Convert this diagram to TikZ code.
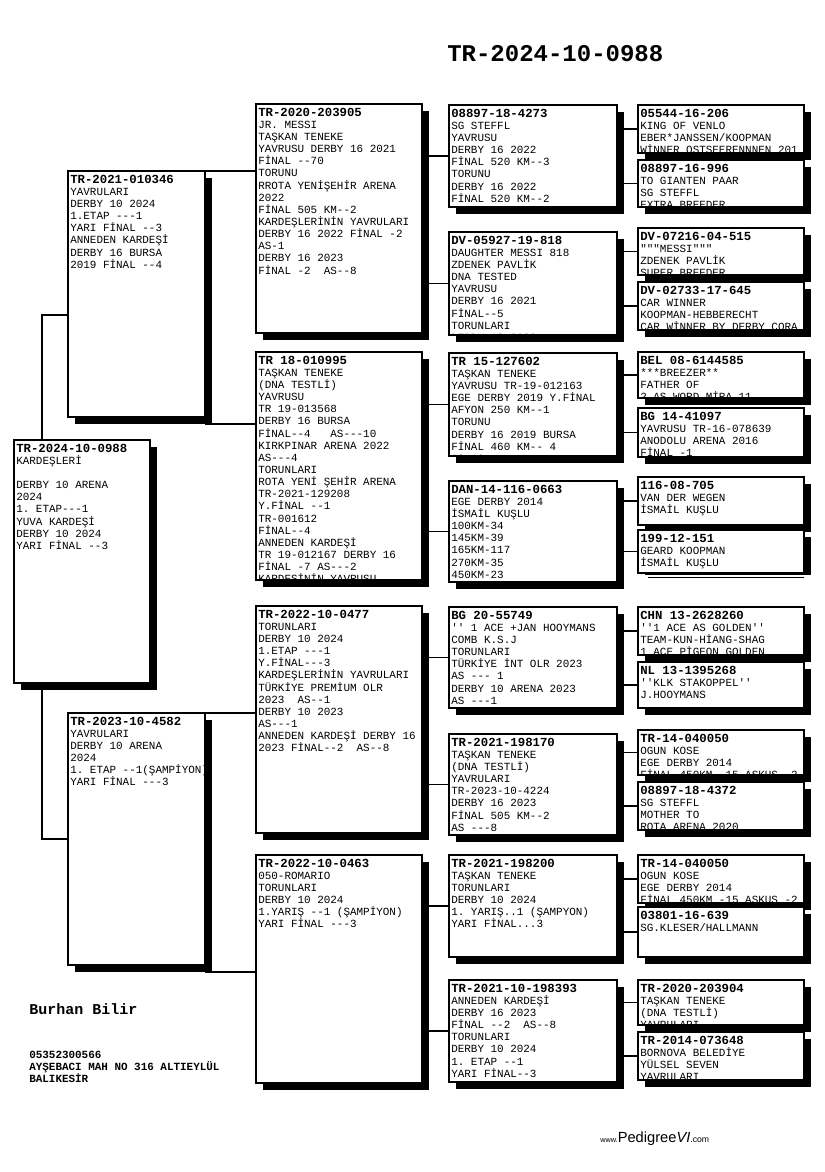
\documentclass[tikz,border=0pt]{standalone}
\usepackage{fontspec}
\setmonofont{Liberation Mono}
\setsansfont{Liberation Sans}
\usetikzlibrary{calc}
\tikzstyle{pbox} = [rectangle, draw=black, line width=0.8pt, fill=white,
    inner sep=0pt, outer sep=0pt, anchor=north west]
\tikzstyle{ptext} = [anchor=north west, inner sep=0pt, align=left,
    font=\ttfamily\fontsize{8.2}{9.1}\selectfont]
\tikzstyle{shade} = [fill=black]
\tikzstyle{link} = [line width=0.8pt]
\tikzstyle{owner} = [anchor=base west, inner sep=0pt, font=\ttfamily\bfseries\fontsize{8.2}{9}\selectfont]
\newcommand{\ring}[1]{{\bfseries\fontsize{9.25}{9.1}\selectfont\rule{0pt}{9pt}#1}}
% name, x, y, width, height, text
\newcommand{\pbox}[6]{%
  \fill[shade] (#2+7,#3+7) rectangle (#2+#4+7,#3+#5+7);
  \node[pbox, minimum width=#4*0.75pt, minimum height=#5*0.75pt] (#1) at (#2,#3) {};
  \begin{scope}
    \clip (#1.south west) rectangle (#1.north east);
    \node[ptext] (#1t) at ($(#1.north west)+(2,0)$) {#6};
  \end{scope}}

\begin{document}
\begin{tikzpicture}[x=0.75pt, y=-0.75pt]
\useasboundingbox (0,0) rectangle (825,1172);

\node[anchor=base west, inner sep=0pt, font=\ttfamily\bfseries\fontsize{18}{20}\selectfont] (head) at (447,61) {TR-2024-10-0988};

% subject and parents
\pbox{subj}{14}{440}{136}{243}{\ring{TR-2024-10-0988}\\KARDEŞLERİ\\ \\DERBY 10 ARENA\\2024\\1. ETAP---1\\YUVA KARDEŞİ\\DERBY 10 2024\\YARI FİNAL --3}
\pbox{sire}{68}{171}{137}{246}{\ring{TR-2021-010346}\\YAVRULARI\\DERBY 10 2024\\1.ETAP ---1\\YARI FİNAL --3\\ANNEDEN KARDEŞİ\\DERBY 16 BURSA\\2019 FİNAL --4}
\pbox{dam}{68}{713}{137}{252}{\ring{TR-2023-10-4582}\\YAVRULARI\\DERBY 10 ARENA\\2024\\1. ETAP --1(ŞAMPİYON)\\YARI FİNAL ---3}

% grandparents
\pbox{gp1}{256}{104}{166}{229}{\ring{TR-2020-203905}\\JR. MESSI\\TAŞKAN TENEKE\\YAVRUSU DERBY 16 2021\\FİNAL --70\\TORUNU\\RROTA YENİŞEHİR ARENA\\2022\\FİNAL 505 KM--2\\KARDEŞLERİNİN YAVRULARI\\DERBY 16 2022 FİNAL -2\\AS-1\\DERBY 16 2023\\FİNAL -2\ \ AS--8}
\pbox{gp2}{256}{352}{166}{228}{\ring{TR 18-010995}\\TAŞKAN TENEKE\\(DNA TESTLİ)\\YAVRUSU\\TR 19-013568\\DERBY 16 BURSA\\FİNAL--4\ \ \ AS---10\\KIRKPINAR ARENA 2022\\AS---4\\TORUNLARI\\ROTA YENİ ŞEHİR ARENA\\TR-2021-129208\\Y.FİNAL --1\\TR-001612\\FİNAL--4\\ANNEDEN KARDEŞİ\\TR 19-012167 DERBY 16\\FİNAL -7 AS---2\\KARDEŞİNİN YAVRUSU}
\pbox{gp3}{256}{606}{166}{227}{\ring{TR-2022-10-0477}\\TORUNLARI\\DERBY 10 2024\\1.ETAP ---1\\Y.FİNAL---3\\KARDEŞLERİNİN YAVRULARI\\TÜRKİYE PREMİUM OLR\\2023\ \ AS--1\\DERBY 10 2023\\AS---1\\ANNEDEN KARDEŞİ DERBY 16\\2023 FİNAL--2\ \ AS--8}
\pbox{gp4}{256}{855}{166}{228}{\ring{TR-2022-10-0463}\\050-ROMARIO\\TORUNLARI\\DERBY 10 2024\\1.YARIŞ --1 (ŞAMPİYON)\\YARI FİNAL ---3}

% great-grandparents
\pbox{g1}{449}{105}{168}{102}{\ring{08897-18-4273}\\SG STEFFL\\YAVRUSU\\DERBY 16 2022\\FİNAL 520 KM--3\\TORUNU\\DERBY 16 2022\\FİNAL 520 KM--2\\AS ---1}
\pbox{g2}{449}{232}{168}{103}{\ring{DV-05927-19-818}\\DAUGHTER MESSI 818\\ZDENEK PAVLİK\\DNA TESTED\\YAVRUSU\\DERBY 16 2021\\FİNAL--5\\TORUNLARI\\DERBY 16 2022}
\pbox{g3}{449}{353}{168}{103}{\ring{TR 15-127602}\\TAŞKAN TENEKE\\YAVRUSU TR-19-012163\\EGE DERBY 2019 Y.FİNAL\\AFYON 250 KM--1\\TORUNU\\DERBY 16 2019 BURSA\\FİNAL 460 KM-- 4\\AS-10}
\pbox{g4}{449}{481}{168}{101}{\ring{DAN-14-116-0663}\\EGE DERBY 2014\\İSMAİL KUŞLU\\100KM-34\\145KM-39\\165KM-117\\270KM-35\\450KM-23\\AS-1}
\pbox{g5}{449}{607}{168}{101}{\ring{BG 20-55749}\\'' 1 ACE +JAN HOOYMANS\\COMB K.S.J\\TORUNLARI\\TÜRKİYE İNT OLR 2023\\AS --- 1\\DERBY 10 ARENA 2023\\AS ---1\\1 ACE AS GOLDEN SAHALI}
\pbox{g6}{449}{734}{168}{101}{\ring{TR-2021-198170}\\TAŞKAN TENEKE\\(DNA TESTLİ)\\YAVRULARI\\TR-2023-10-4224\\DERBY 16 2023\\FİNAL 505 KM--2\\AS ---8\\ROTA YENİŞEHİR}
\pbox{g7}{449}{855}{168}{102}{\ring{TR-2021-198200}\\TAŞKAN TENEKE\\TORUNLARI\\DERBY 10 2024\\1. YARIŞ..1 (ŞAMPYON)\\YARI FİNAL...3}
\pbox{g8}{449}{980}{168}{102}{\ring{TR-2021-10-198393}\\ANNEDEN KARDEŞİ\\DERBY 16 2023\\FİNAL --2\ \ AS--8\\TORUNLARI\\DERBY 10 2024\\1. ETAP --1\\YARI FİNAL--3}

% great-great-grandparents
\pbox{h1}{638}{105}{166}{48}{\ring{05544-16-206}\\KING OF VENLO\\EBER*JANSSEN/KOOPMAN\\WİNNER OSTSEERENNNEN 201}
\pbox{h2}{638}{160}{166}{47}{\ring{08897-16-996}\\TO GIANTEN PAAR\\SG STEFFL\\EXTRA BREEDER}
\pbox{h3}{638}{228}{166}{47}{\ring{DV-07216-04-515}\\"""MESSI"""\\ZDENEK PAVLİK\\SUPER BREEDER}
\pbox{h4}{638}{282}{166}{48}{\ring{DV-02733-17-645}\\CAR WINNER\\KOOPMAN-HEBBERECHT\\CAR WİNNER BY DERBY CORA}
\pbox{h5}{638}{352}{166}{46}{\ring{BEL 08-6144585}\\***BREEZER**\\FATHER OF\\2.AS WORD MİRA 11}
\pbox{h6}{638}{408}{166}{49}{\ring{BG 14-41097}\\YAVRUSU TR-16-078639\\ANODOLU ARENA 2016\\FİNAL -1}
\pbox{h7}{638}{477}{166}{48}{\ring{116-08-705}\\VAN DER WEGEN\\İSMAİL KUŞLU}
\pbox{h8}{638}{530}{166}{43}{\ring{199-12-151}\\GEARD KOOPMAN\\İSMAİL KUŞLU}
\fill[white] (645,574.5) rectangle (812,584);
\draw[link] (648,577.5) -- (804,577.5);
\pbox{h9}{638}{607}{166}{48}{\ring{CHN 13-2628260}\\''1 ACE AS GOLDEN''\\TEAM-KUN-HİANG-SHAG\\1 ACE PİGEON GOLDEN}
\pbox{h10}{638}{662}{166}{46}{\ring{NL 13-1395268}\\''KLK STAKOPPEL''\\J.HOOYMANS}
\pbox{h11}{638}{730}{166}{45}{\ring{TR-14-040050}\\OGUN KOSE\\EGE DERBY 2014\\FİNAL 450KM -15 ASKUS -2}
\pbox{h12}{638}{782}{166}{48}{\ring{08897-18-4372}\\SG STEFFL\\MOTHER TO\\ROTA ARENA 2020}
\pbox{h13}{638}{855}{166}{48}{\ring{TR-14-040050}\\OGUN KOSE\\EGE DERBY 2014\\FİNAL 450KM -15 ASKUS -2}
\pbox{h14}{638}{907}{166}{50}{\ring{03801-16-639}\\SG.KLESER/HALLMANN}
\pbox{h15}{638}{980}{166}{45}{\ring{TR-2020-203904}\\TAŞKAN TENEKE\\(DNA TESTLİ)\\YAVRULARI}
\pbox{h16}{638}{1032}{166}{48}{\ring{TR-2014-073648}\\BORNOVA BELEDİYE\\YÜLSEL SEVEN\\YAVRULARI}

% connectors
\coordinate (subjup) at ($(subj.north west)+(28,0)$);
\coordinate (subjdn) at ($(subj.south west)+(28,0)$);
\draw[link] (subjup) |- ($(sire.west)+(0,21)$);
\draw[link] (subjdn) |- (dam.west);
\draw[link] (sire.north east) -- (sire.north east -| gp1.west);
\coordinate (sirelow) at ($(sire.south east)+(0,7)$);
\draw[link] (sirelow) -- (sirelow -| gp2.west);
\draw[link] (dam.north east) -- (dam.north east -| gp3.west);
\coordinate (damlow) at ($(dam.south east)+(0,7)$);
\draw[link] (damlow) -- (damlow -| gp4.west);
\foreach \a/\b in {gp1/g1, gp1/g2, gp2/g3, gp2/g4, gp3/g5, gp3/g6, gp4/g7, gp4/g8}
  \draw[link] (\b.west -| \a.east) -- (\b.west);
\foreach \a/\b in {g1/h1, g1/h2, g2/h3, g2/h4, g3/h5, g3/h6, g4/h7, g4/h8,
    g5/h9, g5/h10, g6/h11, g6/h12, g7/h13, g7/h14, g8/h15, g8/h16}
  \draw[link] (\b.west -| \a.east) -- (\b.west);

% owner
\node[anchor=base west, inner sep=0pt, font=\ttfamily\bfseries\fontsize{11.25}{12}\selectfont] (breeder) at (29,1014) {Burhan Bilir};
\node[owner] (phone) at (29,1058) {05352300566};
\node[owner] (street) at (29,1070) {AYŞEBACI MAH NO 316 ALTIEYLÜL};
\node[owner] (town) at (29,1082) {BALIKESİR};

\node[anchor=base west, inner sep=0pt, font=\sffamily] (web) at (600,1142)
  {{\fontsize{5.5}{6}\selectfont www.}{\fontsize{11}{12}\selectfont Pedigree}{\fontsize{11}{12}\selectfont\itshape VI}{\fontsize{6.5}{8}\selectfont .com}};
\end{tikzpicture}
\end{document}
